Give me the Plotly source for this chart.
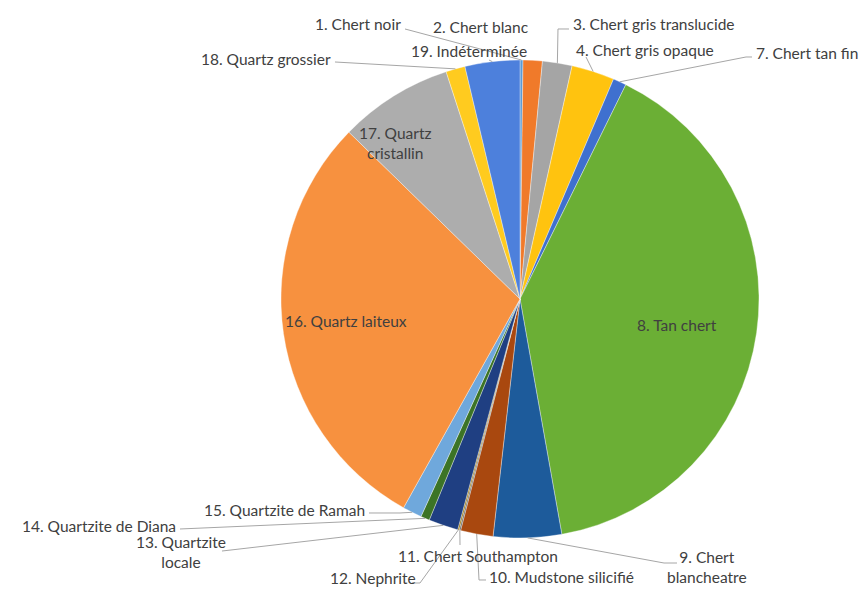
import math
import plotly.graph_objects as go

# ---- data ----
labels = ["1. Chert noir", "2. Chert blanc", "3. Chert gris translucide", "4. Chert gris opaque",
          "7. Chert tan fin", "8. Tan chert", "9. Chert blancheatre", "10. Mudstone silicifié",
          "11. Chert Southampton", "12. Nephrite", "13. Quartzite locale", "14. Quartzite de Diana",
          "15. Quartzite de Ramah", "16. Quartz laiteux", "17. Quartz cristallin",
          "18. Quartz grossier", "19. Indéterminée"]
values = [2, 13, 20, 29, 9, 399, 46, 22, 1, 1, 20, 6, 13, 292, 77, 13, 37]
colors = ["#5B9BD5", "#F07A2A", "#A5A5A5", "#FFC30F", "#3F70CF", "#6BAF35", "#1D5B9B",
          "#A9480F", "#636363", "#997300", "#1F3F82", "#3C7426", "#6FA8DC", "#F7913F",
          "#ADADAD", "#FFCB1F", "#4D80DC"]

# ---- layout geometry (pixels) ----
W, H = 864, 590
CX, CY, R = 520, 299, 239

def px(x):
    return x / W

def py(y):
    return 1 - y / H

fig = go.Figure(go.Pie(
    labels=labels, values=values, sort=False, direction="clockwise", rotation=0,
    marker=dict(colors=colors, line=dict(color="rgba(255,255,255,0.6)", width=0.6)),
    textinfo="none", hoverinfo="label+percent", showlegend=False,
    domain=dict(x=[px(CX - R), px(CX + R)], y=[py(CY + R), py(CY - R)]),
))

# anchor point on slice edge at slice mid-angle (computed from data)
total = sum(values)
anchors = {}
cum = 0
for lab, v in zip(labels, values):
    mid = (cum + v / 2) / total * 2 * math.pi
    cum += v
    anchors[lab] = (CX + R * math.sin(mid), CY - R * math.cos(mid))

TXT = "#404040"
FONT = "Lato"
FS = 15.5

# label text position (px) + anchor side, and leader elbow points (px) before the slice anchor
outside = [
    ("1. Chert noir", "1. Chert noir", 403, 24, "right", [(405, 29)]),
    ("2. Chert blanc", "2. Chert blanc", 481, 27, "center", None),
    ("3. Chert gris translucide", "3. Chert gris translucide", 571, 24, "left", [(569, 29), (558, 29)]),
    ("4. Chert gris opaque", "4. Chert gris opaque", 574, 50, "left", [(586, 57)]),
    ("7. Chert tan fin", "7. Chert tan fin", 754, 53, "left", [(752, 57), (746, 57)]),
    ("19. Indéterminée", "19. Indéterminée", 469, 51, "center", [(489, 60)]),
    ("18. Quartz grossier", "18. Quartz grossier", 333, 59, "right", [(335, 62)]),
    ("9. Chert blancheatre", "9. Chert<br>blancheatre", 707, 567, "center", [(677, 563), (664, 563)]),
    ("10. Mudstone silicifié", "10. Mudstone silicifié", 487, 577, "left", [(486, 580), (479, 580)]),
    ("11. Chert Southampton", "11. Chert Southampton", 478, 556, "center", [(460, 545)]),
    ("12. Nephrite", "12. Nephrite", 418, 578, "right", [(412, 583), (420, 583)]),
    ("13. Quartzite locale", "13. Quartzite<br>locale", 181, 552, "center", [(222, 551), (231, 550)]),
    ("14. Quartzite de Diana", "14. Quartzite de Diana", 178, 526, "right", [(180, 529)]),
    ("15. Quartzite de Ramah", "15. Quartzite de Ramah", 367, 510, "right", [(369, 513), (400, 513)]),
]

annotations = []
shapes = []
for key, text, tx, ty, anc, pts in outside:
    annotations.append(dict(x=px(tx), y=py(ty), xref="paper", yref="paper", text=text,
                            showarrow=False, font=dict(family=FONT, size=FS, color=TXT),
                            xanchor=anc, yanchor="middle", align="center"))
    if pts:
        ax, ay = anchors[key]
        allp = pts + [(ax, ay)]
        path = "M " + " L ".join(f"{px(x):.5f},{py(y):.5f}" for x, y in allp)
        shapes.append(dict(type="path", path=path, xref="paper", yref="paper",
                           line=dict(color="#A6A6A6", width=1)))

inside = [("8. Tan chert", 677, 325), ("16. Quartz laiteux", 346, 321),
          ("17. Quartz<br>cristallin", 395, 143)]
for text, tx, ty in inside:
    annotations.append(dict(x=px(tx), y=py(ty), xref="paper", yref="paper", text=text,
                            showarrow=False, font=dict(family=FONT, size=FS, color="#404040"),
                            xanchor="center", yanchor="middle", align="center"))

fig.update_layout(width=W, height=H, margin=dict(l=0, r=0, t=0, b=0),
                  paper_bgcolor="white", plot_bgcolor="white",
                  annotations=annotations, shapes=shapes)

fig.write_html("out.html", config={"displayModeBar": False},
               post_script="document.body.style.margin='0';document.body.style.padding='0';")
